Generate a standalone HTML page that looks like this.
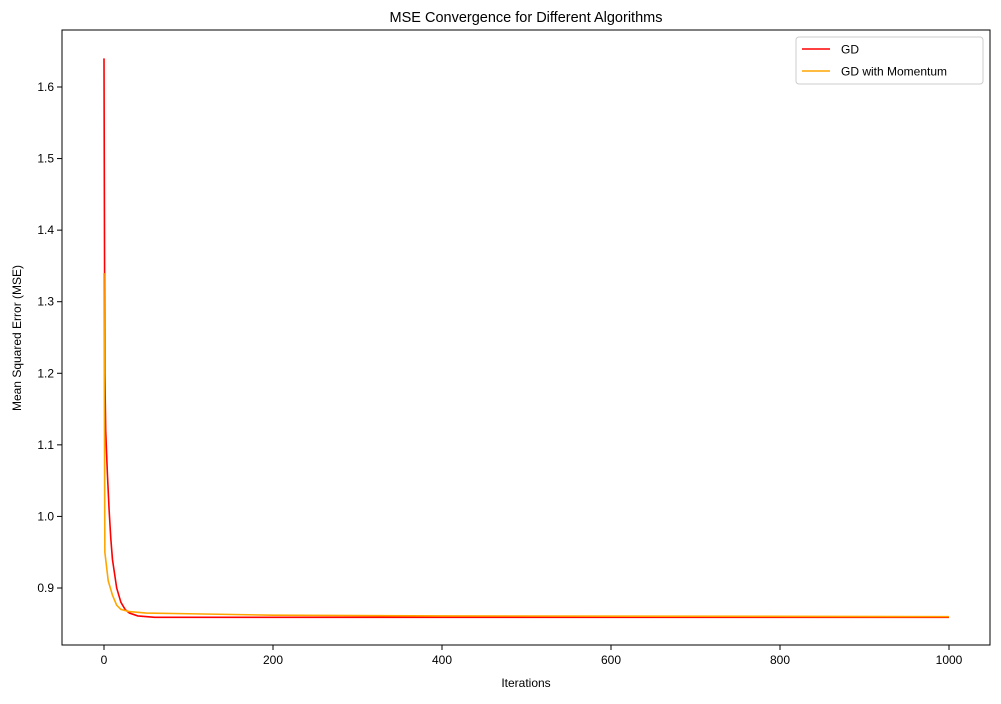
<!DOCTYPE html>
<html><head><meta charset="utf-8"><style>
body{margin:0;background:#fff;}
svg text{font-family:"Liberation Sans",sans-serif;fill:#000;}
</style></head><body>
<svg id="c" width="1001" height="699" xmlns="http://www.w3.org/2000/svg">
<rect x="0" y="0" width="1001" height="699" fill="#fff"/>
<text x="526" y="22" font-size="14.5" text-anchor="middle">MSE Convergence for Different Algorithms</text>
<text x="526" y="687" font-size="12" text-anchor="middle">Iterations</text>
<text transform="translate(21,338) rotate(-90)" font-size="12" text-anchor="middle">Mean Squared Error (MSE)</text>
<g id="plot"></g>
<rect x="62" y="30" width="928" height="615" fill="none" stroke="#000" stroke-width="1"/>
<g>
<rect x="796" y="37" width="187" height="47" rx="3" fill="#fff" stroke="#ccc"/>
<line x1="802" y1="49" x2="830" y2="49" stroke="#ff0000" stroke-width="1.5"/>
<text x="841" y="53.5" font-size="12">GD</text>
<line x1="802" y1="71" x2="830" y2="71" stroke="#ffa500" stroke-width="1.5"/>
<text x="841" y="75.5" font-size="12">GD with Momentum</text>
</g>
</svg>
<script>
const xTicks=[0,200,400,600,800,1000];
const yTicks=[0.9,1.0,1.1,1.2,1.3,1.4,1.5,1.6];
const gdIters=[0,1,2,4,6,8,10,15,20,25,30,40,60,1000];
const gdMSE=[1.64,1.20,1.12,1.06,1.01,0.97,0.94,0.90,0.88,0.87,0.865,0.861,0.859,0.859];
const momIters=[0,1,3,5,10,15,20,30,50,100,200,400,1000];
const momMSE=[1.34,0.95,0.93,0.91,0.89,0.876,0.870,0.867,0.865,0.864,0.862,0.861,0.860];
const X=v=>104+v*0.845;
const Y=v=>87+(1.6-v)*715.7;
const NS="http://www.w3.org/2000/svg";
const g=document.getElementById('plot');
function mk(t,a){const e=document.createElementNS(NS,t);for(const k in a)e.setAttribute(k,a[k]);g.appendChild(e);return e;}
xTicks.forEach(v=>{
 const l=mk('line',{x1:X(v),x2:X(v),y1:645,y2:650,stroke:'#000'});
 
 
 const t=mk('text',{x:X(v),y:664,'font-size':12,'text-anchor':'middle'});t.textContent=v;
 
 
});
yTicks.forEach(v=>{
 const l=mk('line',{x1:57,x2:62,y1:Y(v),y2:Y(v),stroke:'#000'});
 
 
 const t=mk('text',{x:54,y:Y(v)+4,'font-size':12,'text-anchor':'end'});t.textContent=v.toFixed(1);
 
 
});
function line(xs,ys,c,n){
 const p=mk('polyline',{points:xs.map((x,i)=>X(x)+','+Y(ys[i])).join(' '),fill:'none',stroke:c,'stroke-width':1.6});
 
 
}
line(gdIters,gdMSE,'#ff0000','gd-line');
line(momIters,momMSE,'#ffa500','momentum-line');
</script>
</body></html>
